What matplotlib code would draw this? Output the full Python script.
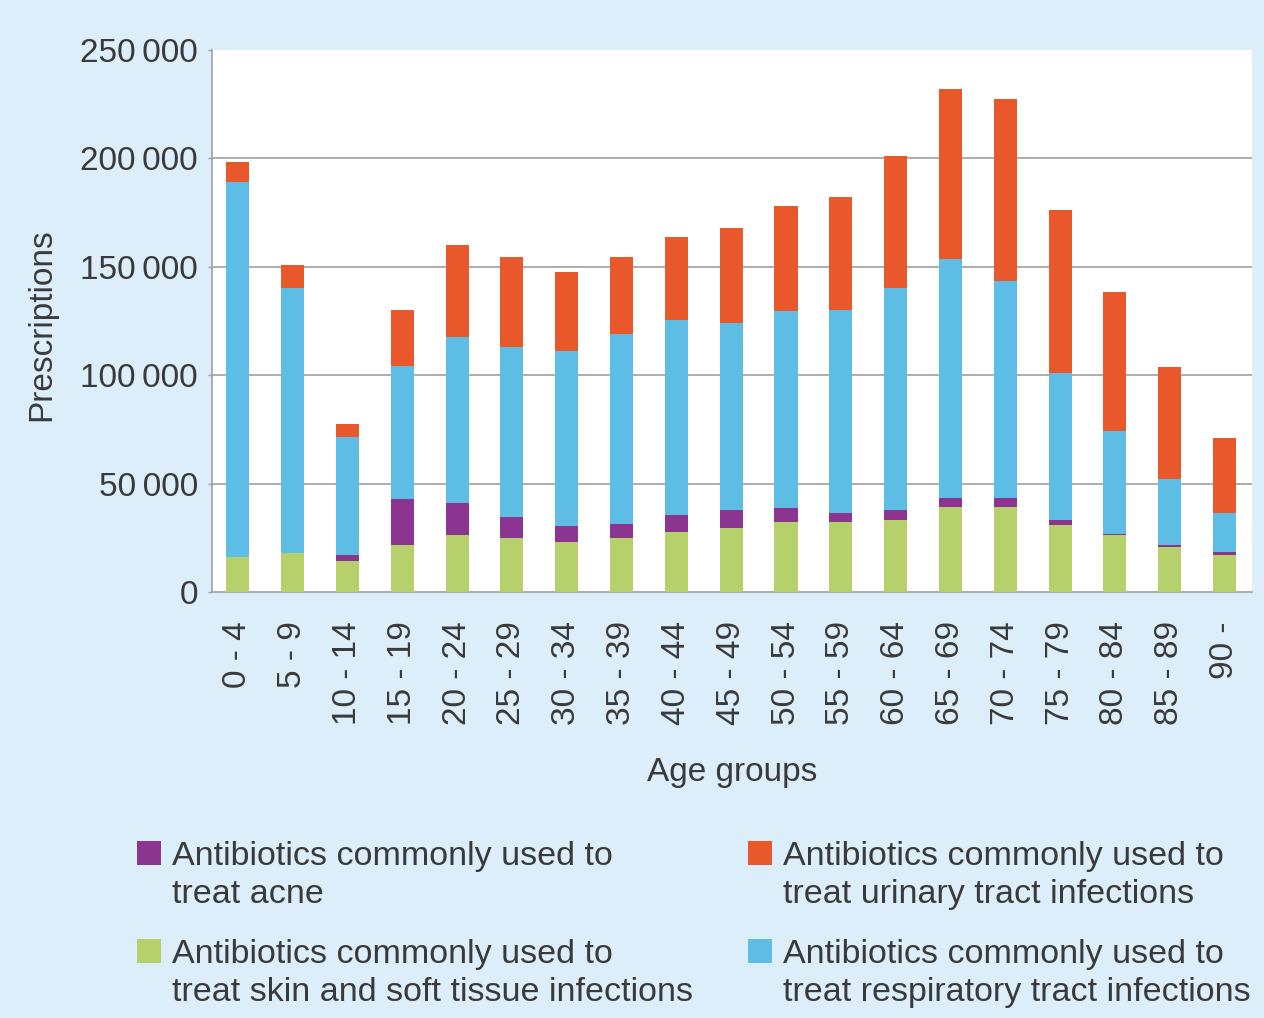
import numpy as np
import matplotlib
matplotlib.use("Agg")
import matplotlib.pyplot as plt
from matplotlib.patches import Rectangle

# -----------------------------
# Data
# -----------------------------

age_groups = ["0 - 4", "5 - 9", "10 - 14", "15 - 19", "20 - 24", "25 - 29",
              "30 - 34", "35 - 39", "40 - 44", "45 - 49", "50 - 54", "55 - 59",
              "60 - 64", "65 - 69", "70 - 74", "75 - 79", "80 - 84", "85 - 89",
              "90 -"]

skin = [16300, 17800, 14400, 21700, 26300, 25000, 23200, 24700, 27500, 29700,
        32100, 32100, 33100, 39000, 39400, 30800, 26100, 20800, 17200]

acne = [0, 0, 2700, 21000, 14600, 9700, 7400, 6600, 7800, 8000,
        6500, 4500, 4700, 4200, 3800, 2200, 800, 700, 1200]

respiratory = [172700, 122200, 54500, 61500, 76500, 78400, 80600, 87600, 90300,
               86300, 91000, 93400, 102600, 110500, 100200, 68000, 47200, 30800,
               18000]

urinary = [9200, 10600, 5900, 26100, 42600, 41500, 36200, 35600, 38200, 44000,
           48400, 52300, 60700, 78400, 83900, 75000, 64200, 51500, 34600]

y_ticks = [0, 50000, 100000, 150000, 200000, 250000]
y_tick_labels = ["0", "50\u2009000", "100\u2009000", "150\u2009000",
                 "200\u2009000", "250\u2009000"]

legend_labels = [
    "Antibiotics commonly used to\ntreat acne",
    "Antibiotics commonly used to\ntreat skin and soft tissue infections",
    "Antibiotics commonly used to\ntreat urinary tract infections",
    "Antibiotics commonly used to\ntreat respiratory tract infections",
]

# -----------------------------
# Style
# -----------------------------

bg_color = "#dbeefa"
col_skin = "#b6d06c"
col_acne = "#8c3590"
col_resp = "#5dbde5"
col_uti = "#e9582b"
text_color = "#3a3a3a"
grid_color = "#a0a0a0"

plt.rcParams["font.family"] = ["Liberation Sans", "DejaVu Sans"]

W, H = 1264, 1018
fig = plt.figure(figsize=(W / 100, H / 100), dpi=100)
fig.patch.set_facecolor(bg_color)

ax = fig.add_axes([212 / W, 1 - 592 / H, (1252 - 212) / W, (592 - 50) / H])
ax.set_facecolor("white")

x = np.arange(len(age_groups))
skin = np.array(skin)
acne = np.array(acne)
respiratory = np.array(respiratory)
urinary = np.array(urinary)

bw = 0.42
ax.bar(x, skin, width=bw, color=col_skin, zorder=3)
ax.bar(x, acne, width=bw, bottom=skin, color=col_acne, zorder=3)
ax.bar(x, respiratory, width=bw, bottom=skin + acne, color=col_resp, zorder=3)
ax.bar(x, urinary, width=bw, bottom=skin + acne + respiratory, color=col_uti, zorder=3)

ax.set_xlim(-0.47, 18.5)
ax.set_ylim(0, 250000)

ax.set_yticks(y_ticks)
ax.set_yticklabels(y_tick_labels, fontsize=24, color=text_color)
ax.set_xticks(x)
ax.set_xticklabels(age_groups, rotation=90, fontsize=24, color=text_color,
                   va="top", ha="center")
ax.tick_params(axis="y", length=3, width=1, color=grid_color, pad=7)
ax.tick_params(axis="x", length=0, pad=21)

for yv in y_ticks[1:-1]:
    ax.axhline(yv, color=grid_color, linewidth=1.2, zorder=1)

for side in ["top", "right"]:
    ax.spines[side].set_visible(False)
for side in ["left", "bottom"]:
    ax.spines[side].set_color(grid_color)
    ax.spines[side].set_linewidth(1.2)

fig.text(732 / W, 1 - 781 / H, "Age groups", fontsize=24, color=text_color,
         ha="center", va="baseline")
fig.text(42 / W, 1 - 325 / H, "Prescriptions", rotation=90, fontsize=24,
         color=text_color, ha="center", va="center")

# -----------------------------
# Legend (two columns, square aligned to first line)
# -----------------------------

legend_colors = [col_acne, col_skin, col_uti, col_resp]
legend_pos = [(137, 841), (137, 939), (748, 841), (748, 939)]

for (px, py), color, label in zip(legend_pos, legend_colors, legend_labels):
    fig.patches.append(Rectangle((px / W, 1 - (py + 24) / H), 24 / W, 24 / H,
                                 transform=fig.transFigure, facecolor=color,
                                 edgecolor="none"))
    fig.text((px + 35) / W, 1 - py / H, label, fontsize=24.5,
             color=text_color, ha="left", va="top", linespacing=1.3)

fig.savefig("out.png", dpi=100, facecolor=bg_color)
